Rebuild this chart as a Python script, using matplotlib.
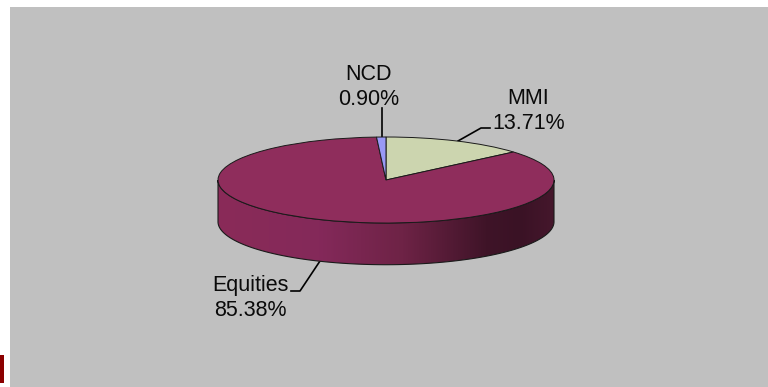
import numpy as np
import matplotlib
matplotlib.use("Agg")
import matplotlib.pyplot as plt
from matplotlib.colors import LinearSegmentedColormap
from matplotlib.patches import Polygon, Rectangle

plt.rcParams['font.family'] = ['Liberation Sans', 'DejaVu Sans']

# chart data, clockwise from the top
labels = ['MMI', 'Equities', 'NCD']
values = [13.71, 85.38, 0.90]
colors = ['#CCD5AF', '#8F2D5C', '#9999F5']

W, H = 768, 387
fig = plt.figure(figsize=(W / 100, H / 100), dpi=100, facecolor='white')

# overlay axes in pixels, for the background and the labels
bg = fig.add_axes([0, 0, 1, 1])
bg.set_xlim(0, W)
bg.set_ylim(H, 0)
bg.axis('off')
bg.add_patch(Rectangle((10, 7), 757.5, 380, fc='#C0C0C0', ec='none'))
bg.add_patch(Rectangle((0, 355), 4, 28, fc='#8B0000', ec='none'))

# the pie top is a circle squashed by the axes shape
ax = fig.add_axes([218 / W, 1 - 223 / H, 336 / W, 86 / H])
ax.patch.set_alpha(0)

depth = 0.97
t = np.linspace(np.pi, 2 * np.pi, 200)
xs = np.cos(t)
ys = np.sin(t)
side = np.r_[np.c_[xs, ys], np.c_[xs[::-1], ys[::-1] - depth]]

cmap = LinearSegmentedColormap.from_list('side', [
    (0.0, '#8A2B58'), (0.3, '#84295A'), (0.55, '#6E2346'),
    (0.8, '#3F1428'), (0.9, '#3A1225'), (1.0, '#45172C')])
img = ax.imshow(np.linspace(0, 1, 256)[None, :], cmap=cmap, aspect='auto',
                extent=(-1, 1, -1 - depth, 0), zorder=1)
outline = Polygon(side, closed=True, fc='none', ec='#1A1A1A', lw=0.8, zorder=2, clip_on=False)
ax.add_patch(outline)
img.set_clip_box(fig.bbox)  # side hangs below the pie axes
img.set_clip_path(outline)

wedges, _ = ax.pie(values, colors=colors, startangle=90, counterclock=False, radius=1,
                   wedgeprops=dict(edgecolor='#1A1A1A', linewidth=0.7, zorder=3, clip_on=False))
ax.set_aspect('auto')
ax.set_xlim(-1, 1)
ax.set_ylim(-1, 1)
ax.axis('off')

# labels and leader lines, in pixels
tx = dict(fontsize=15.5, color='#0A0A0A', va='center', linespacing=1.28)
bg.text(368.5, 87, f'{labels[2]}\n{values[2]:.2f}%', ha='center', **tx)
bg.text(528.5, 111, f'{labels[0]}\n{values[0]:.2f}%', ha='center', **tx)
bg.text(212, 298, f'{labels[1]}\n{values[1]:.2f}%', ha='left', multialignment='center', **tx)
line = dict(color='black', lw=1.2, zorder=5)
bg.plot([382, 382], [108, 137], **line)
bg.plot([458, 481, 490], [141, 128, 128], **line)
bg.plot([320, 300, 291], [261, 291, 291], **line)

fig.savefig('out.png', dpi=100)
